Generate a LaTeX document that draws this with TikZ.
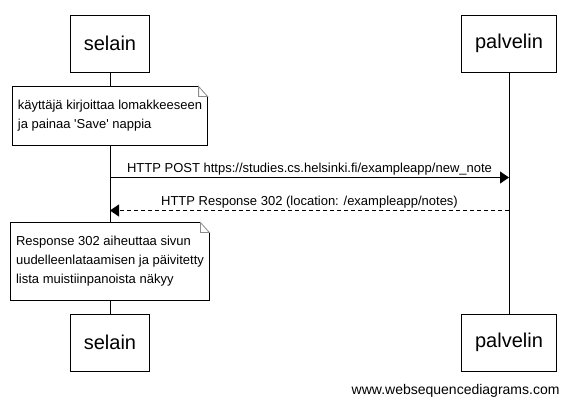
\documentclass[tikz,border=0pt]{standalone}
\usepackage{fontspec}
\setmainfont{Liberation Sans}
\usetikzlibrary{positioning,arrows.meta}
\definecolor{foldgray}{gray}{0.55}
\begin{document}
\begin{tikzpicture}[x=1pt,y=-1pt,line width=1pt]
    \tikzstyle{actor}=[rectangle,draw=black,minimum height=57pt,inner xsep=13.5pt,font=\fontsize{20}{24}\selectfont]
    \tikzstyle{note}=[rectangle,fill=white,inner xsep=5pt,inner ysep=13.4pt,align=left,font=\fontsize{13}{19}\selectfont]
    \tikzstyle{msg}=[-{Triangle[length=9pt,width=12pt]}]
    \tikzstyle{msglabel}=[above,inner sep=1.5pt,font=\fontsize{13}{16}\selectfont]

    \useasboundingbox (0,0) rectangle (571,405);

    \node[actor](sel1) at (110,43.5){selain};
    \node[actor](pal1) at (509,43.5){palvelin};
    \node[actor](sel2) at (110,342.5){selain};
    \node[actor](pal2) at (509,342.5){palvelin};

    \draw (sel1) -- (sel2);
    \draw (pal1) -- (pal2);

    \node[note,below=14pt of sel1](note1){käyttäjä kirjoittaa lomakkeeseen\\ja painaa \textquotesingle Save\textquotesingle{} nappia};
    \draw (note1.south east) -- (note1.south west) -- (note1.north west) -- ([xshift=-9pt]note1.north east);
    \draw (note1.south east) -- ([yshift=-10pt]note1.north east);
    \draw[foldgray,line width=0.8pt] ([xshift=-9pt]note1.north east) -- ([yshift=-10pt]note1.north east)
      -- ([xshift=-9pt,yshift=-10pt]note1.north east) -- cycle;

    \node[note,above=13pt of sel2](note2){Response 302 aiheuttaa sivun\\uudelleenlataamisen ja päivitetty\\lista muistiinpanoista näkyy};
    \draw (note2.south east) -- (note2.south west) -- (note2.north west) -- ([xshift=-9pt]note2.north east);
    \draw (note2.south east) -- ([yshift=-10pt]note2.north east);
    \draw[foldgray,line width=0.8pt] ([xshift=-9pt]note2.north east) -- ([yshift=-10pt]note2.north east)
      -- ([xshift=-9pt,yshift=-10pt]note2.north east) -- cycle;

    \coordinate (post1) at (110,177.5);
    \coordinate (post2) at (509,177.5);
    \coordinate (resp1) at (509,210.5);
    \coordinate (resp2) at (110,210.5);

    \draw[msg] (post1) -- (post2) node[msglabel,midway]{HTTP POST https://studies.cs.helsinki.fi/exampleapp/new\_note};
    \draw[msg,dash pattern=on 4pt off 3pt] (resp1) -- (resp2) node[msglabel,midway]{HTTP Response 302 (location: /exampleapp/notes)};

    \node[anchor=base east,inner sep=0pt,font=\fontsize{14}{17}\selectfont](web) at (560,394){www.websequencediagrams.com};
\end{tikzpicture}
\end{document}
